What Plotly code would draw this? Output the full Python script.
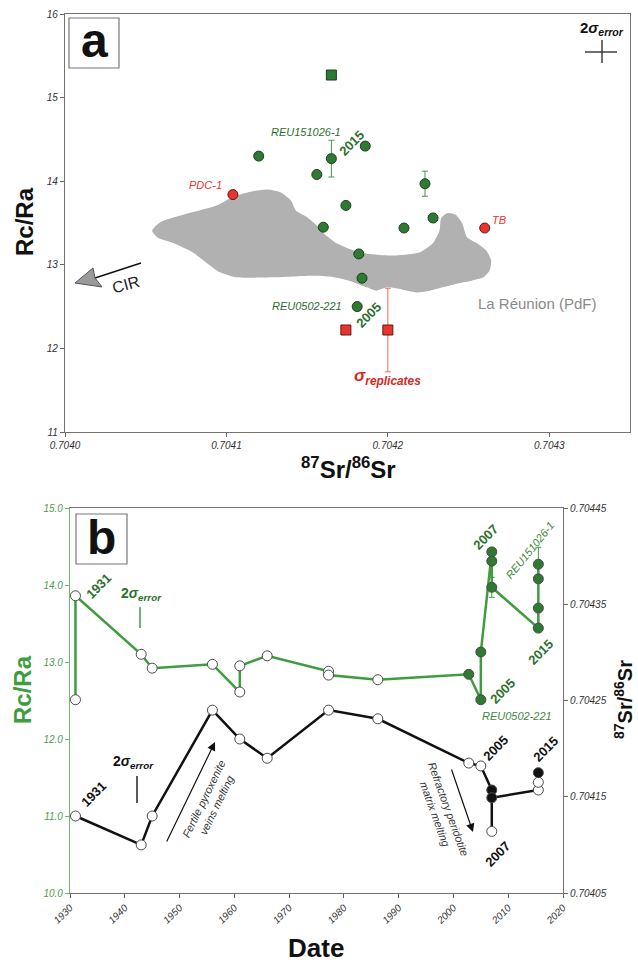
import plotly.graph_objects as go

W, H = 638, 966
FONT = "Liberation Sans, Arial, sans-serif"

# ---------------- Panel a data ----------------
a_green_sr = [0.704120, 0.704156, 0.704165, 0.704186, 0.704174, 0.704223,
              0.704160, 0.704210, 0.704228, 0.704182, 0.704184, 0.704181]
a_green_rc = [14.30, 14.08, 14.27, 14.42, 13.71, 13.97,
              13.45, 13.44, 13.56, 13.13, 12.84, 12.50]
a_green_err = [0, 0, 0.22, 0, 0, 0.15, 0, 0, 0, 0, 0, 0]
a_gsq_sr = [0.704165]
a_gsq_rc = [15.27]
a_red_sr = [0.704104, 0.704260]
a_red_rc = [13.84, 13.44]
a_rsq_sr = [0.704174, 0.704200]
a_rsq_rc = [12.22, 12.22]
a_rsq_err = [0, 0.50]

# La Réunion (PdF) field outline
field_sr = [0.704054, 0.704059, 0.704077, 0.704094, 0.704104, 0.704114, 0.704125,
            0.704133, 0.704140, 0.704143, 0.704150, 0.704156, 0.704160, 0.704168,
            0.704182, 0.704203, 0.704220, 0.704228, 0.704232, 0.704233, 0.704237,
            0.704242, 0.704246, 0.704249, 0.704255, 0.704261, 0.704264, 0.704263,
            0.704259, 0.704252, 0.704244, 0.704234, 0.704226, 0.704218, 0.704205,
            0.704199, 0.704193, 0.704187, 0.704176, 0.704164, 0.704152, 0.704129,
            0.704106, 0.704096, 0.704088, 0.704079, 0.704067, 0.704057]
field_rc = [13.41, 13.51, 13.62, 13.71, 13.81, 13.87, 13.90,
            13.87, 13.77, 13.65, 13.57, 13.47, 13.38, 13.26,
            13.15, 13.11, 13.15, 13.26, 13.41, 13.56, 13.62,
            13.60, 13.50, 13.33, 13.26, 13.17, 13.05, 12.93,
            12.85, 12.81, 12.78, 12.73, 12.69, 12.67, 12.72,
            12.73, 12.69, 12.73, 12.81, 12.86, 12.87, 12.85,
            12.85, 12.91, 13.02, 13.15, 13.26, 13.33]

a_xticks = [0.7040, 0.7041, 0.7042, 0.7043]
a_xticklabels = ["0.7040", "0.7041", "0.7042", "0.7043"]
a_yticks = [11, 12, 13, 14, 15, 16]

# ---------------- Panel b data ----------------
b_he_year = [1931, 1931, 1943, 1945, 1956, 1961, 1961, 1966, 1977.2, 1977.2, 1986.2,
             2002.8, 2005, 2005, 2007, 2007, 2007, 2015.5, 2015.5, 2015.5, 2015.5]
b_he_rc = [12.51, 13.86, 13.10, 12.92, 12.97, 12.61, 12.95, 13.08, 12.88, 12.83, 12.77,
           12.84, 12.51, 13.13, 14.43, 14.31, 13.97, 13.44, 13.70, 14.08, 14.27]
b_he_filled = [0] * 11 + [1] * 10
b_he_err = [0] * 16 + [0.13, 0, 0, 0, 0.22]

b_sr_year = [1931, 1943, 1945, 1956, 1961, 1966, 1977.2, 1986.2, 2002.8, 2005,
             2007, 2007, 2007, 2015.5, 2015.5, 2015.5]
b_sr_val = [0.704130, 0.704100, 0.704130, 0.704240, 0.704210, 0.704190, 0.704240,
            0.704231, 0.704185, 0.704182, 0.704157, 0.704114, 0.704149, 0.704157,
            0.704165, 0.704175]
b_sr_filled = [0, 0, 0, 0, 0, 0, 0, 0, 0, 0, 1, 0, 1, 0, 0, 1]

b_xticks = [1930, 1940, 1950, 1960, 1970, 1980, 1990, 2000, 2010, 2020]
b_rc_ticks = [10, 11, 12, 13, 14, 15]
b_rc_ticklabels = ["10.0", "11.0", "12.0", "13.0", "14.0", "15.0"]
b_sr_ticks = [0.70405, 0.70415, 0.70425, 0.70435, 0.70445]
b_sr_ticklabels = ["0.70405", "0.70415", "0.70425", "0.70435", "0.70445"]

# ---------------- colours ----------------
GREEN_M = "#2f7a32"
GREEN_L = "#3f9c3f"
GREEN_T = "#2d6f2d"
GREEN_AX = "#6fb86f"
RED = "#e8342c"
GREY_F = "#b1b1b1"


def px(x):
    return x / W


def py(y):
    return 1 - y / H


fig = go.Figure()

# field
fig.add_trace(go.Scatter(x=field_sr + field_sr[:1], y=field_rc + field_rc[:1],
                         mode="lines", fill="toself", fillcolor=GREY_F,
                         line=dict(width=0, color=GREY_F, shape="spline", smoothing=0.6),
                         xaxis="x", yaxis="y", hoverinfo="skip"))
# green circles
fig.add_trace(go.Scatter(x=a_green_sr, y=a_green_rc, mode="markers",
                         marker=dict(size=10, color=GREEN_M, line=dict(width=1, color="#1d3d1d")),
                         error_y=dict(type="data", array=a_green_err, color=GREEN_L,
                                      thickness=1, width=3),
                         xaxis="x", yaxis="y"))
fig.add_trace(go.Scatter(x=a_gsq_sr, y=a_gsq_rc, mode="markers",
                         marker=dict(size=10, symbol="square", color=GREEN_M,
                                     line=dict(width=1, color="#1d3d1d")),
                         xaxis="x", yaxis="y"))
fig.add_trace(go.Scatter(x=a_red_sr, y=a_red_rc, mode="markers",
                         marker=dict(size=10, color=RED, line=dict(width=1, color="#5a1a14")),
                         xaxis="x", yaxis="y"))
fig.add_trace(go.Scatter(x=a_rsq_sr, y=a_rsq_rc, mode="markers",
                         marker=dict(size=10, symbol="square", color=RED,
                                     line=dict(width=1, color="#5a1a14")),
                         error_y=dict(type="data", array=a_rsq_err, color="#f06a55",
                                      thickness=1, width=3),
                         xaxis="x", yaxis="y"))

# panel b: Rc/Ra
fig.add_trace(go.Scatter(x=b_he_year, y=b_he_rc, mode="lines+markers",
                         line=dict(color=GREEN_L, width=2.5),
                         marker=dict(size=10, color=[GREEN_M if f else "white" for f in b_he_filled],
                                     line=dict(width=1, color="#4a4a4a")),
                         error_y=dict(type="data", array=b_he_err, color=GREEN_L,
                                      thickness=1, width=3),
                         xaxis="x2", yaxis="y2"))
# panel b: Sr
fig.add_trace(go.Scatter(x=b_sr_year, y=b_sr_val, mode="lines+markers",
                         line=dict(color="#111111", width=2.5),
                         marker=dict(size=10, color=["#111111" if f else "white" for f in b_sr_filled],
                                     line=dict(width=1, color="#4a4a4a")),
                         xaxis="x2", yaxis="y3"))

tickfont = dict(family=FONT, size=10, color="#333333", style="italic")
common = dict(automargin=False, showgrid=False, zeroline=False, ticks="outside", ticklen=4)

fig.update_layout(
    template="none",
    width=W, height=H, autosize=False,
    margin=dict(l=0, r=0, t=0, b=0, autoexpand=False),
    paper_bgcolor="white", plot_bgcolor="white",
    showlegend=False,
    font=dict(family=FONT),
    xaxis=dict(domain=[65 / W, 630 / W], anchor="y", range=[0.7040, 0.70435],
               tickvals=a_xticks, ticktext=a_xticklabels,
               tickcolor="#666", showline=True, linecolor="#7a716a", linewidth=1.2,
               mirror=True, tickfont=tickfont, **common),
    yaxis=dict(domain=[1 - 432 / H, 1 - 14 / H], anchor="x", range=[11, 16],
               tickvals=a_yticks, tickcolor="#666",
               showline=True, linecolor="#7a716a", linewidth=1.2, mirror=True,
               tickfont=tickfont, **common),
    xaxis2=dict(domain=[70 / W, 563 / W], anchor="y2", range=[1930, 2020],
                tickvals=b_xticks, tickangle=-45,
                tickcolor="#666", showline=True, linecolor="#7a716a", linewidth=1.2,
                mirror=True, tickfont=tickfont, **common),
    yaxis2=dict(domain=[1 - 893 / H, 1 - 508 / H], anchor="x2", range=[10, 15],
                tickvals=b_rc_ticks, ticktext=b_rc_ticklabels,
                tickcolor=GREEN_AX, showline=True, linecolor=GREEN_AX, linewidth=1.2,
                tickfont=dict(family=FONT, size=10, color="#4f9a4f", style="italic"),
                **common),
    yaxis3=dict(overlaying="y2", anchor="x2", side="right", range=[0.70405, 0.70445],
                tickvals=b_sr_ticks, ticktext=b_sr_ticklabels,
                tickcolor="#666", showline=True, linecolor="#7a716a", linewidth=1.2,
                tickfont=tickfont, **common),
)

shapes = []
# panel label boxes
shapes.append(dict(type="rect", xref="paper", yref="paper", x0=px(69), x1=px(119),
                   y0=py(68), y1=py(18), line=dict(color="#777", width=1.2), fillcolor="white"))
shapes.append(dict(type="rect", xref="paper", yref="paper", x0=px(76), x1=px(127),
                   y0=py(564), y1=py(514), line=dict(color="#777", width=1.2), fillcolor="white"))
# 2 sigma cross panel a
shapes.append(dict(type="line", xref="paper", yref="paper", x0=px(585), x1=px(617),
                   y0=py(52), y1=py(52), line=dict(color="#222", width=1.3)))
shapes.append(dict(type="line", xref="paper", yref="paper", x0=px(602), x1=px(602),
                   y0=py(40), y1=py(63), line=dict(color="#222", width=1.3)))
# CIR arrow
shapes.append(dict(type="line", xref="paper", yref="paper", x0=px(141), x1=px(95),
                   y0=py(263), y1=py(278), line=dict(color="#111", width=1.5)))
shapes.append(dict(type="path", xref="paper", yref="paper",
                   path="M %f,%f L %f,%f L %f,%f L %f,%f Z" % (
                       px(75), py(283), px(93), py(268), px(95), py(278), px(102), py(287)),
                   fillcolor="#9a9a9a", line=dict(color="#555", width=1)))
# 2 sigma bars panel b
shapes.append(dict(type="line", xref="paper", yref="paper", x0=px(140), x1=px(140),
                   y0=py(607), y1=py(628), line=dict(color=GREEN_L, width=1.5)))
shapes.append(dict(type="line", xref="paper", yref="paper", x0=px(137), x1=px(137),
                   y0=py(776), y1=py(803), line=dict(color="#222", width=1.5)))
fig.update_layout(shapes=shapes)

ann = []


def text(x, y, t, size=11, color="#222", angle=0, bold=False, italic=False, **kw):
    s = t
    if bold:
        s = "<b>" + s + "</b>"
    if italic:
        s = "<i>" + s + "</i>"
    ann.append(dict(x=px(x), y=py(y), xref="paper", yref="paper", text=s, showarrow=False,
                    textangle=angle, font=dict(family=FONT, size=size, color=color),
                    xanchor="center", yanchor="middle", **kw))


# panel labels
text(94, 41, "a", size=48, color="#111", bold=True)
text(101, 537, "b", size=48, color="#111", bold=True)

# axis titles
text(24, 222, "Rc/Ra", size=24, color="#111", angle=-90, bold=True)
text(348, 468, "<sup>87</sup>Sr/<sup>86</sup>Sr", size=24, color="#111", bold=True)
text(22, 690, "Rc/Ra", size=24, color="#3f9c3f", angle=-90, bold=True)
text(623, 700, "<sup>87</sup>Sr/<sup>86</sup>Sr", size=20, color="#111", angle=-90, bold=True)
text(316, 948, "Date", size=26, color="#111", bold=True)

# panel a texts
text(602, 28, "2<i>σ</i><sub><i>error</i></sub>", size=15, color="#111", bold=True)
text(306, 132, "REU151026-1", size=11, color=GREEN_T, italic=True)
text(351, 143, "2015", size=13, color=GREEN_T, angle=-45, bold=True)
text(205, 185, "PDC-1", size=11, color=RED, italic=True)
text(499, 220, "TB", size=11, color=RED, italic=True)
text(307, 306, "REU0502-221", size=11, color=GREEN_T, italic=True)
text(368, 315, "2005", size=13, color=GREEN_T, angle=-45, bold=True)
text(537, 303, "La Réunion (PdF)", size=15, color="#8a8a8a")
text(388, 377, "<i>σ</i><sub><i>replicates</i></sub>", size=17, color="#d42a22", bold=True)
text(126, 284, "CIR", size=16, color="#222", angle=-15)

# panel b texts
text(98, 586, "1931", size=13, color=GREEN_T, angle=-45, bold=True)
text(141, 594, "2<i>σ</i><sub><i>error</i></sub>", size=14, color=GREEN_T, bold=True)
text(485, 537, "2007", size=13, color=GREEN_T, angle=-45, bold=True)
text(530, 550, "REU151026-1", size=11, color="#3f8a3f", angle=-51, italic=True)
text(540, 652, "2015", size=13, color=GREEN_T, angle=-45, bold=True)
text(502, 691, "2005", size=13, color=GREEN_T, angle=-45, bold=True)
text(517, 716, "REU0502-221", size=11, color="#3f8a3f", italic=True)
text(93, 794, "1931", size=13, color="#111", angle=-45, bold=True)
text(133, 762, "2<i>σ</i><sub><i>error</i></sub>", size=14, color="#111", bold=True)
text(495, 748, "2005", size=13, color="#111", angle=-45, bold=True)
text(545, 749, "2015", size=13, color="#111", angle=-45, bold=True)
text(497, 854, "2007", size=13, color="#111", angle=-45, bold=True)
text(210, 802, "Fertile pyroxenite<br>veins melting", size=11, color="#333", angle=-64, italic=True)
text(442, 812, "Refractory peridotite<br>matrix melting", size=11, color="#333", angle=70, italic=True)

# arrows panel b
ann.append(dict(x=px(215), y=py(742), xref="paper", yref="paper", ax=-49, ay=101,
                showarrow=True, arrowhead=2, arrowsize=1.4, arrowwidth=1.2,
                arrowcolor="#111", text=""))
ann.append(dict(x=px(473), y=py(832), xref="paper", yref="paper", ax=-22, ay=-64,
                showarrow=True, arrowhead=2, arrowsize=1.4, arrowwidth=1.2,
                arrowcolor="#111", text=""))

fig.update_layout(annotations=ann)
# remove the default page margin so the figure sits at the window's top-left corner
fig.write_html("out.html", config={"displayModeBar": False},
               post_script="document.body.style.margin='0px';")
